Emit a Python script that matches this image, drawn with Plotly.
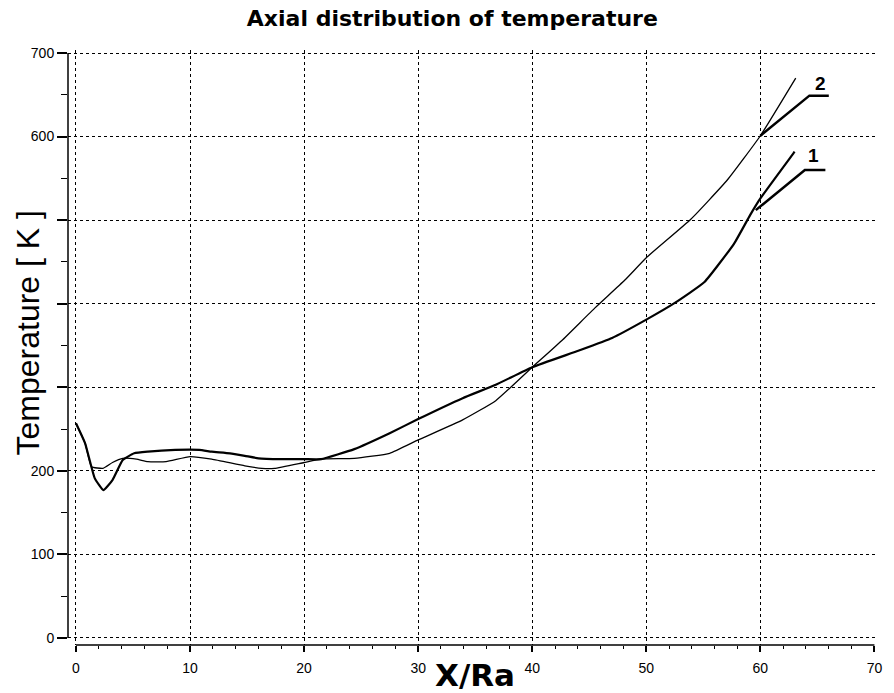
import plotly.graph_objects as go

# ---- data ----
x_curve1 = [0, 0.8, 1.65, 2.4, 3.2, 4.1, 5.1, 6.3, 8.7, 10.8, 11.9, 13.5, 14.8, 16, 18, 20, 21.5,
            24.4, 27.5, 30, 33.9, 36.8, 40, 44.1, 47, 50, 52.5, 55.1, 57.7, 59.1, 60, 62.9, 63.0]
t_curve1 = [257, 233, 191, 177, 189, 213, 221, 223, 225, 225, 223, 221, 218, 215, 214, 214, 214,
            226, 245, 262, 287, 303, 324, 344, 359, 381, 401, 426, 472, 506, 526, 580, 582]

x_curve2 = [0, 0.8, 1.36, 2.37, 3.2, 4.1, 5.3, 6.3, 7.9, 10, 11.9, 14.8, 16.3, 17.4, 20, 21.5,
            24.4, 27.5, 30, 33.9, 36.8, 40, 42.6, 45.5, 48.1, 50, 53.9, 57.1, 60, 63.1]
t_curve2 = [257, 233, 205, 203, 210, 215, 214, 211, 211, 217, 214, 206, 203, 203, 210, 214,
            215, 221, 237, 261, 284, 324, 356, 395, 428, 455, 501, 548, 601, 670]

curve_labels = ["1", "2"]
# leader lines: point on curve -> elbow -> end of underline
leader1 = [(59.6, 512), (63.9, 560), (65.7, 560)]
leader2 = [(60.0, 601), (64.3, 649), (66.0, 649)]
label1_pos = (64.7, 577)
label2_pos = (65.3, 664)

x_ticks = [0, 10, 20, 30, 40, 50, 60, 70]
x_ticktext = ["0", "10", "20", "30", "40", "50", "60", "70"]
y_ticks = [0, 100, 200, 300, 400, 500, 600, 700]
y_ticktext = ["0", "100", "200", "", "", "", "600", "700"]  # 300-500 hidden behind the axis title

title_text = "Axial distribution of temperature"
x_title = "X/Ra"
y_title = "Temperature [ K ]"

FONT = "Liberation Sans, Arial, sans-serif"
BOLDWIDE = "DejaVu Sans, Verdana, sans-serif"

fig = go.Figure()
fig.add_trace(go.Scatter(x=x_curve1, y=t_curve1, mode="lines", line_shape="spline",
                         line=dict(color="black", width=2.2, smoothing=0.4), name="1"))
fig.add_trace(go.Scatter(x=x_curve2, y=t_curve2, mode="lines", line_shape="spline",
                         line=dict(color="black", width=1.3, smoothing=0.4), name="2"))

for pts in (leader1, leader2):
    path = "M {} {} L {} {} L {} {}".format(pts[0][0], pts[0][1], pts[1][0], pts[1][1],
                                           pts[2][0], pts[2][1])
    fig.add_shape(type="path", path=path, xref="x", yref="y",
                  line=dict(color="black", width=2.5))

for lab, pos in zip(curve_labels, (label1_pos, label2_pos)):
    fig.add_annotation(x=pos[0], y=pos[1], text="<b>%s</b>" % lab, showarrow=False,
                       font=dict(family=FONT, size=19, color="black"))

# offset axis lines (y axis spans 0..700, x axis spans 0..70)
fig.add_shape(type="line", xref="paper", yref="y", x0=0, x1=0, y0=y_ticks[0], y1=y_ticks[-1],
              line=dict(color="black", width=1.5))
fig.add_shape(type="line", xref="x", yref="paper", x0=x_ticks[0], x1=x_ticks[-1], y0=0, y1=0,
              line=dict(color="black", width=1.5))

# axis titles as annotations (placed relative to the plot area)
fig.add_annotation(xref="paper", yref="paper", x=0, y=0.5, xanchor="center", yanchor="middle",
                   xshift=-41, yshift=14, textangle=-90, showarrow=False, text=y_title,
                   font=dict(family=FONT, size=32, color="black"))
fig.add_annotation(xref="paper", yref="paper", x=0.5, y=0, xanchor="center", yanchor="middle",
                   xshift=3, yshift=-30, showarrow=False, text="<b>%s</b>" % x_title,
                   font=dict(family=BOLDWIDE, size=31, color="black"))

fig.update_layout(
    width=894, height=693,
    margin=dict(l=68, r=12, t=50, b=48),
    paper_bgcolor="white", plot_bgcolor="white",
    showlegend=False,
    title=dict(text="<b>%s</b>" % title_text, x=0.506, xanchor="center",
               y=0.974, yanchor="middle",
               font=dict(family=BOLDWIDE, size=22, color="black")),
    font=dict(family=FONT, color="black"),
)

fig.update_xaxes(
    range=[-0.7, 70.05], tickvals=x_ticks, ticktext=x_ticktext,
    showline=False, zeroline=False,
    showgrid=True, gridcolor="black", griddash="dot", gridwidth=1,
    ticks="outside", ticklen=6, tickwidth=1.5, tickcolor="black", ticklabelstandoff=4,
    minor=dict(dtick=2, ticklen=3, tickwidth=1, tickcolor="black", showgrid=False, ticks="outside"),
    tickfont=dict(family=FONT, size=14, color="black"),
)
fig.update_yaxes(
    range=[-8.4, 703.6], tickvals=y_ticks, ticktext=y_ticktext,
    showline=False, zeroline=False,
    showgrid=True, gridcolor="black", griddash="dot", gridwidth=1,
    ticks="outside", ticklen=10, tickwidth=1.5, tickcolor="black",
    minor=dict(dtick=50, ticklen=6, tickwidth=1, tickcolor="black", showgrid=False, ticks="outside"),
    tickfont=dict(family=FONT, size=14, color="black"),
)

fig.write_html("out.html")
